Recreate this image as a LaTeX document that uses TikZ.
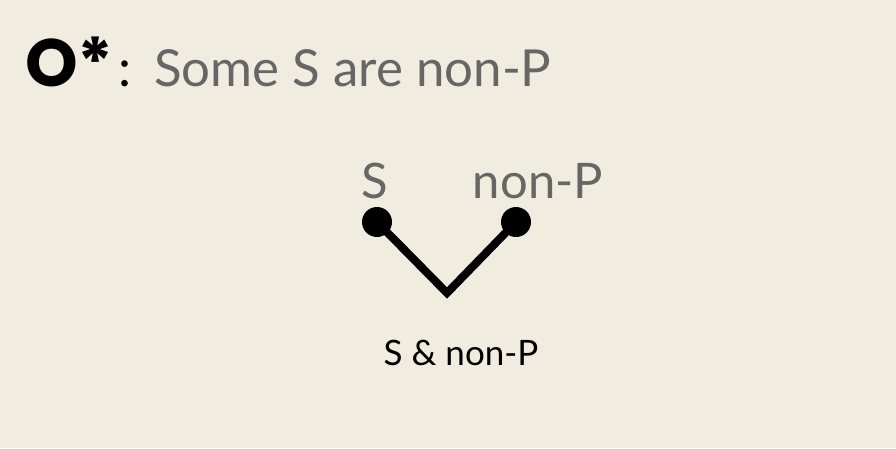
\documentclass[tikz,border=0pt]{standalone}
\usepackage{fontspec}
\setmainfont{Lato}
\newfontfamily\headfont{Poppins}
\usetikzlibrary{positioning}
\definecolor{paper}{HTML}{F0ECE0}
\definecolor{softgray}{HTML}{666666}
\tikzset{
EDGE/.style ={draw=black,line join=miter,line cap=butt,line width=8pt},
DOT/.style ={circle,fill=black,inner sep=0pt,minimum size=30pt},
TERM/.style ={text=softgray,font=\fontsize{49}{58}\selectfont,anchor=base,inner sep=0pt},
}
\begin{document}
\begin{tikzpicture}
[x=1pt,y=-1pt]
	\fill[paper] (0,0) rectangle (896,448);
	\useasboundingbox (0,0) rectangle (896,448);
	%Title
	\node[anchor=base west,inner sep=0pt] (head) at (25,86)
		{{\headfont\bfseries\fontsize{67}{74}\selectfont O*}\kern5pt{\fontsize{52}{60}\selectfont:}};
	\node[anchor=base west,inner sep=0pt,text=softgray,font=\fontsize{51}{60}\selectfont] (claim) at (154,86)
		{Some S are non-P};
	%Terms
	\node[DOT] (s) at (377,222) {};
	\node[DOT] (p) at (516,222) {};
	\coordinate (v) at (447,293);
	\node[TERM] (slabel) at (375,198) {S};
	\node[TERM] (plabel) at (538,198) {non-P};
	\path[EDGE] (s.center) -- (v) -- (p.center);
	\node[anchor=base,inner sep=0pt,font=\fontsize{35}{42}\selectfont] (join) at (461,365) {S \& non-P};
\end{tikzpicture}
\end{document}
